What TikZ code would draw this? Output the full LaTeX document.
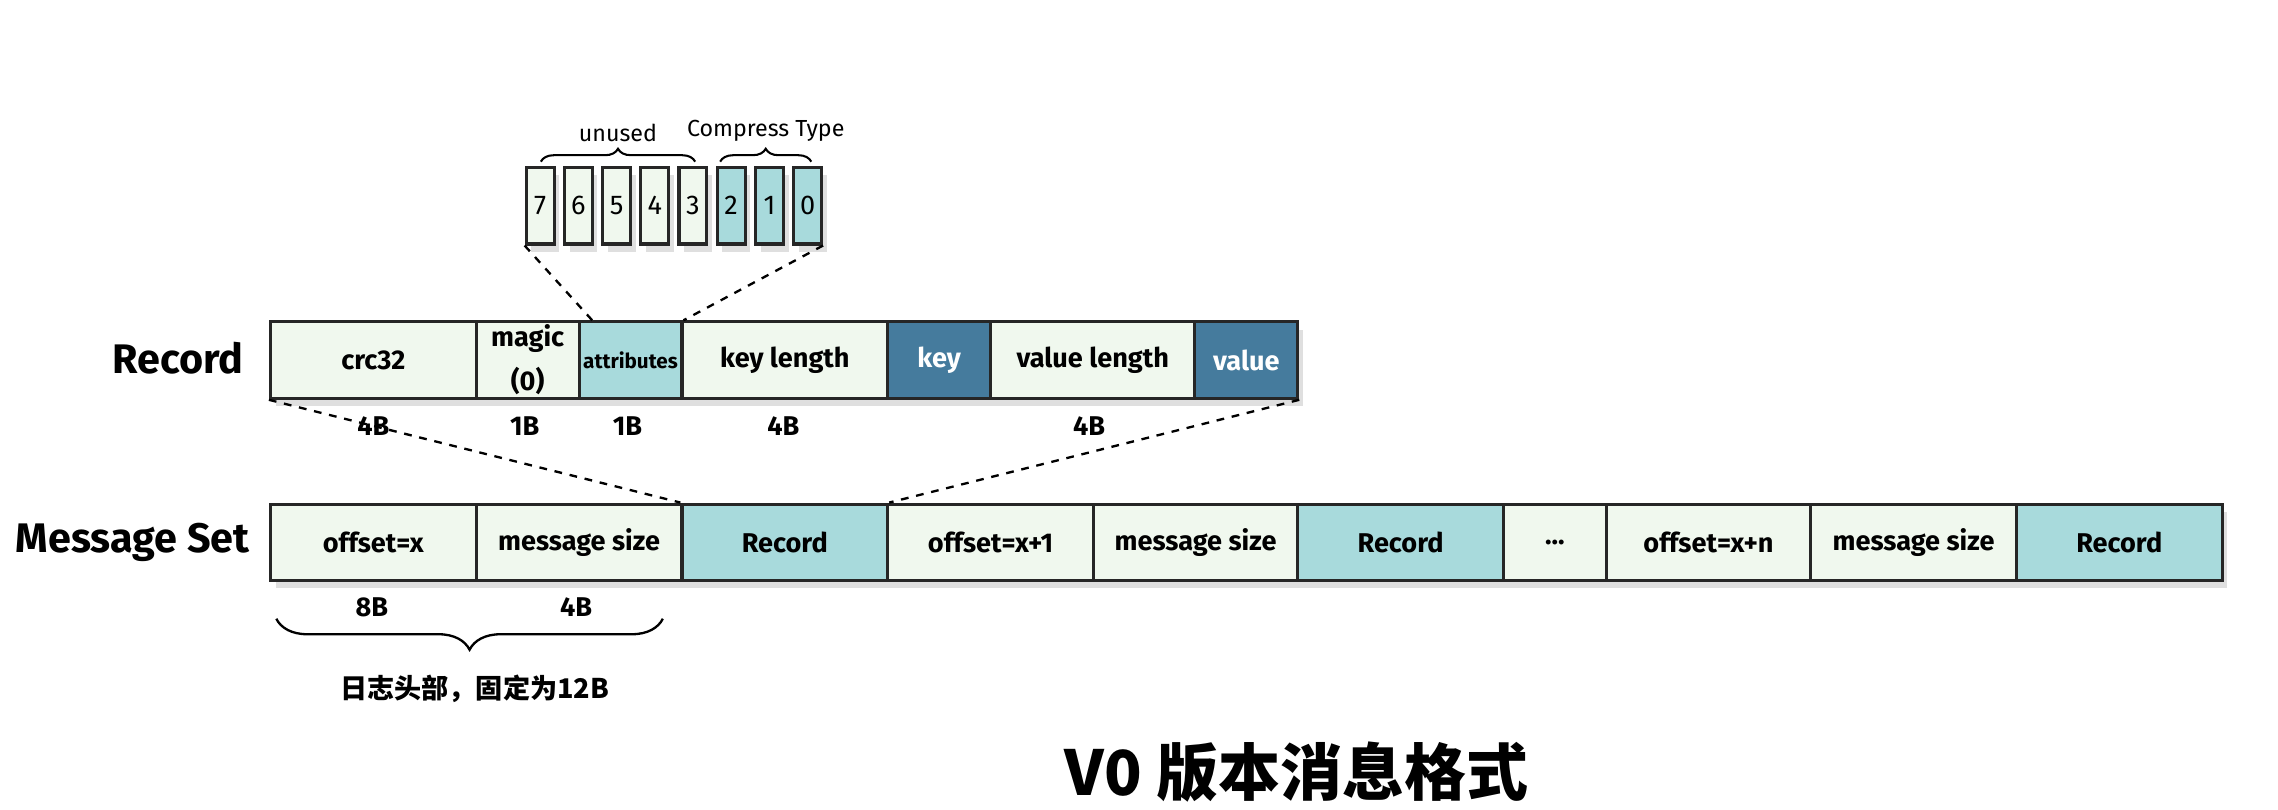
\documentclass[tikz,border=0pt]{standalone}
\usepackage{fontspec}
\setmainfont{Fira Sans}
\newfontfamily\cjk{Noto Sans CJK SC}
\usetikzlibrary{decorations.pathreplacing,shadows}
\definecolor{pale}{HTML}{F0F8EE}
\definecolor{teal}{HTML}{A8DADC}
\definecolor{deep}{HTML}{457B9D}
\tikzset{
  cell/.style={draw=black!85, line width=1.2pt, minimum height=1.04cm, inner sep=0pt,
    font=\bfseries\fontsize{10.5}{13}\selectfont, drop shadow={opacity=0.25, shadow xshift=2pt, shadow yshift=-3pt}},
  bit/.style={cell, minimum width=0.38cm, font=\fontsize{10.5}{13}\selectfont},
  size/.style={font=\bfseries\fontsize{10.5}{13}\selectfont},
  row/.style={font=\bfseries\fontsize{16}{19}\selectfont, anchor=east},
  link/.style={dashed, line width=0.9pt}
}
\begin{document}
\begin{tikzpicture}[x=0.02cm, y=-0.02cm]
          \useasboundingbox (0,0) rectangle (1550,551);

          % bits of the attributes byte
          \foreach \n/\x/\c in {7/367.5/pale, 6/393.5/pale, 5/419.5/pale, 4/445.5/pale,
              3/471.5/pale, 2/497.5/teal, 1/523.5/teal, 0/549.5/teal}
            \node[bit, fill=\c] (b\n) at (\x,140) {\n};
          \draw[decorate, decoration={brace, amplitude=5pt}, line width=0.8pt]
            (368,110) -- node[above=4pt, font=\fontsize{9}{11}\selectfont] {unused} (473,110);
          \draw[decorate, decoration={brace, amplitude=5pt}, line width=0.8pt]
            (490,110) -- node[above=4pt, font=\fontsize{9}{11}\selectfont] {Compress Type} (552,110);

          % record
          \node[row] (rec) at (172,244) {Record};
          \node[cell, fill=pale, minimum width=2.8cm] (crc) at (254,245) {crc32};
          \node[cell, fill=pale, minimum width=1.4cm, align=center] (magic) at (359,245) {magic\\[4pt](0)};
          \node[cell, fill=teal, minimum width=1.4cm, font=\bfseries\fontsize{8}{10}\selectfont] (attr) at (429,245) {attributes};
          \node[cell, fill=pale, minimum width=2.8cm] (klen) at (534,245) {key length};
          \node[cell, fill=deep, text=white, minimum width=1.4cm] (key) at (639,245) {key};
          \node[cell, fill=pale, minimum width=2.78cm] (vlen) at (743.5,245) {value length};
          \node[cell, fill=deep, text=white, minimum width=1.4cm] (val) at (848,245) {value};
          \node[size] at (254,290) {4B};
          \node[size] at (357,290) {1B};
          \node[size] at (427,290) {1B};
          \node[size] at (533,290) {4B};
          \node[size] at (741,290) {4B};

          % message set
          \node[row] (ms) at (176,369) {Message Set};
          \node[cell, fill=pale, minimum width=2.8cm] (off1) at (254,369) {offset=x};
          \node[cell, fill=pale, minimum width=2.8cm] (size1) at (394,369) {message size};
          \node[cell, fill=teal, minimum width=2.8cm] (rec1) at (534,369) {Record};
          \node[cell, fill=pale, minimum width=2.8cm] (off2) at (674,369) {offset=x+1};
          \node[cell, fill=pale, minimum width=2.78cm] (size2) at (813.5,369) {message size};
          \node[cell, fill=teal, minimum width=2.8cm] (rec2) at (953,369) {Record};
          \node[cell, fill=pale, minimum width=1.4cm] (dots) at (1058,369) {...};
          \node[cell, fill=pale, minimum width=2.78cm] (off3) at (1162.5,369) {offset=x+n};
          \node[cell, fill=pale, minimum width=2.8cm] (size3) at (1302,369) {message size};
          \node[cell, fill=teal, minimum width=2.8cm] (rec3) at (1442,369) {Record};
          \node[size] at (253,413) {8B};
          \node[size] at (392,413) {4B};
          \draw[decorate, decoration={brace, mirror, amplitude=12pt}, line width=0.9pt]
            (188,421) -- (451,421);
          \node[font=\cjk\bfseries\fontsize{10.5}{13}\selectfont] (hdr) at (323,469) {日志头部，固定为12B};

          % zoom lines
          \draw[link] (b7.south west) -- ([xshift=0.2cm]attr.north west);
          \draw[link] (b0.south east) -- (attr.north east);
          \draw[link] (crc.south west) -- (rec1.north west);
          \draw[link] (val.south east) -- (rec1.north east);

          \node[font=\cjk\bfseries\fontsize{24}{28}\selectfont] (title) at (882,525) {V0 版本消息格式};
        \end{tikzpicture}
\end{document}
